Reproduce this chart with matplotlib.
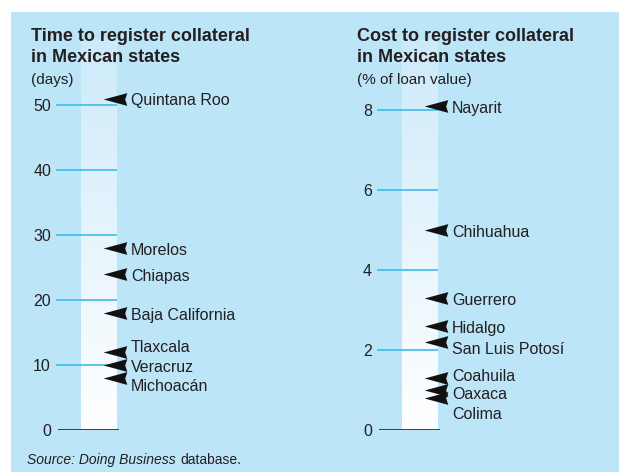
import matplotlib
matplotlib.use("Agg")
import matplotlib.pyplot as plt
import numpy as np
from matplotlib import font_manager
from matplotlib.path import Path
from matplotlib.patches import Rectangle

# data
time_states = ["Quintana Roo", "Morelos", "Chiapas", "Baja California",
               "Tlaxcala", "Veracruz", "Michoacán"]
time_days = [51, 28, 24, 18, 12, 10, 8]
time_label_nudge = [0, 0, 0, 0, 1.0, 0, -1.0]
time_ticks = [0, 10, 20, 30, 40, 50]

cost_states = ["Nayarit", "Chihuahua", "Guerrero", "Hidalgo", "San Luis Potosí",
               "Coahuila", "Oaxaca", "Colima"]
cost_pct = [8.1, 5.0, 3.3, 2.6, 2.2, 1.3, 1.0, 0.8]
cost_label_nudge = [0, 0, 0, 0, -0.14, 0.08, -0.07, -0.37]
cost_ticks = [0, 2, 4, 6, 8]

W, H = 619, 472
BG = "#bce5f8"
GRID = "#3dbdec"
INK = "#231f20"

names = {f.name for f in font_manager.fontManager.ttflist}
font = "DejaVu Sans"
for cand in ["Liberation Sans Narrow", "DejaVu Sans Condensed", "Liberation Sans"]:
    if cand in names:
        font = cand
        break
plt.rcParams["font.family"] = [font, "DejaVu Sans"]

fig = plt.figure(figsize=(W / 100, H / 100), dpi=100)
fig.patch.set_facecolor("white")
fig.patches.append(Rectangle((11 / W, 0), 1, 1 - 12 / H, transform=fig.transFigure,
                             facecolor=BG, edgecolor="none", zorder=-5))

# left-pointing arrowhead with a small notch at the back
arrow = Path([(-1, 0), (1, 0.54), (0.82, 0), (1, -0.54), (-1, 0)],
             [Path.MOVETO, Path.LINETO, Path.LINETO, Path.LINETO, Path.CLOSEPOLY])

grad = np.linspace(1, 0, 256).reshape(-1, 1)
cmap = matplotlib.colors.LinearSegmentedColormap.from_list("col", ["#ffffff", "#cdeafa"])


def px_axes(x0, x1, y_top, y_bot):
    return fig.add_axes([x0 / W, 1 - y_bot / H, (x1 - x0) / W, (y_bot - y_top) / H])


def panel(ax, states, vals, nudge, ticks, ytop):
    ax.set_xlim(0, ax.bbox.width)
    ax.set_ylim(0, ytop)
    ax.patch.set_visible(False)
    for s in ax.spines.values():
        s.set_visible(False)
    ax.set_xticks([])
    ax.set_yticks(ticks)
    ax.set_yticklabels([str(t) for t in ticks])
    ax.tick_params(axis="y", length=0, pad=3.6, labelsize=11.5, labelcolor=INK)
    # white gradient column
    ax.imshow(grad, extent=(25, 61, 0, ytop), aspect="auto", cmap=cmap,
              vmin=0, vmax=1, zorder=1)
    for t in ticks[1:]:
        ax.plot([0, 61], [t, t], color=GRID, lw=1.2, zorder=2, solid_capstyle="butt")
    ax.plot([2, 63], [0, 0], color=INK, lw=1.2, zorder=2, solid_capstyle="butt")
    ax.scatter([58.5] * len(vals), vals, marker=arrow, s=17 ** 2, color="#111111",
               linewidths=0, zorder=3, clip_on=False)
    for name, v, dv in zip(states, vals, nudge):
        ax.annotate(name, (75, v + dv), xytext=(0, -1.5), textcoords="offset points",
                    ha="left", va="center", fontsize=11.5, color=INK)


ax1 = px_axes(56, 300, 40, 430)
panel(ax1, time_states, time_days, time_label_nudge, time_ticks, 390 / 6.5)
ax2 = px_axes(377, 619, 40, 430)
panel(ax2, cost_states, cost_pct, cost_label_nudge, cost_ticks, 390 / 40)


def ftext(x, y, s, **kw):
    return fig.text(x / W, 1 - y / H, s, color=INK, **kw)


for x0, lines, unit in [(31, ["Time to register collateral", "in Mexican states"], "(days)"),
                        (357, ["Cost to register collateral", "in Mexican states"], "(% of loan value)")]:
    ftext(x0, 41, lines[0], fontsize=13, fontweight="bold", va="baseline")
    ftext(x0, 62, lines[1], fontsize=13, fontweight="bold", va="baseline")
    ftext(x0, 80, unit, fontsize=11, va="center")

src = ftext(27, 460, "Source: Doing Business", fontsize=10, style="italic", va="center")
r = fig.canvas.get_renderer()
bb = src.get_window_extent(renderer=r)
fig.text((bb.x1 + 5) / W, 1 - 460 / H, "database.", fontsize=10, va="center", color=INK)

fig.savefig("out.png", dpi=100, facecolor=fig.get_facecolor())
